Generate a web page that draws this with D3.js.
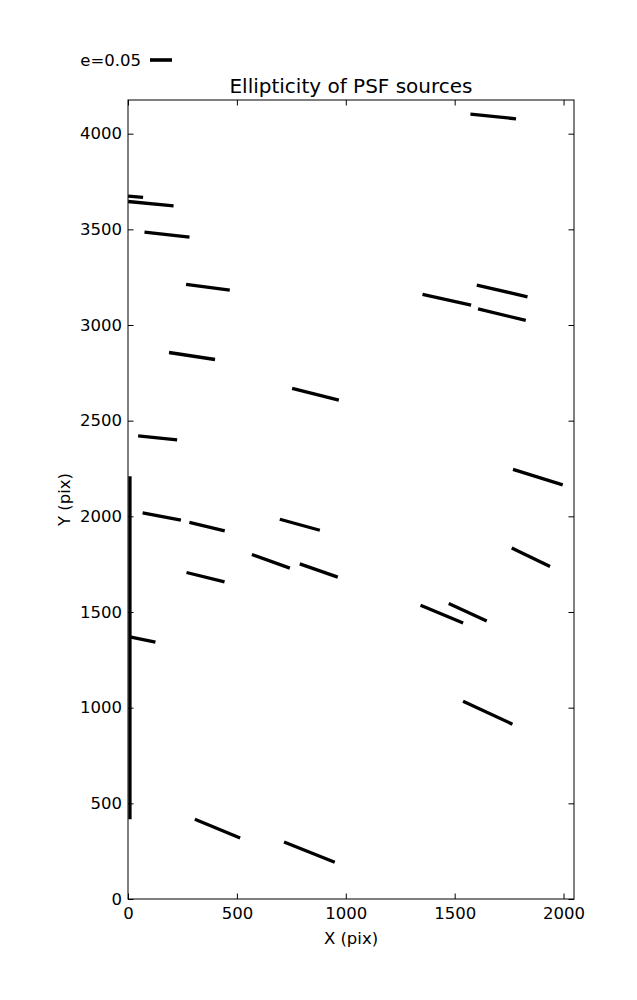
<!DOCTYPE html>
<html>
<head>
<meta charset="utf-8">
<script src="https://cdn.jsdelivr.net/npm/d3@7"></script>
<style>
  html, body { margin: 0; padding: 0; background: #fff; }
  svg { display: block; font-family: "DejaVu Sans", sans-serif; }
</style>
</head>
<body>
<svg id="chart" width="637" height="1000"></svg>
<script>
// ---- Data (source position in pixels, ellipticity e, orientation angle in degrees) ----
const srcX = [1677, 35, 105, 179, 367, 294, 861, 136, 9, 67, 155, 363, 789, 656, 876, 356, 411, 833, 1464, 1718, 1717, 1882, 1850, 1441, 1560, 1652];
const srcY = [4090, 3670, 3634, 3472, 3197, 2838, 2638, 2410, 1313, 1356, 1999, 1946, 1956, 1765, 1717, 1682, 368, 245, 3132, 3178, 3054, 2205, 1786, 1489, 1499, 974];
const ellip = [0.1042, 0.0342, 0.1037, 0.1029, 0.1002, 0.1058, 0.1094, 0.0891, 0.7795, 0.0596, 0.0886, 0.0825, 0.0943, 0.0918, 0.0915, 0.0890, 0.1114, 0.1241, 0.1131, 0.1183, 0.1116, 0.1183, 0.0968, 0.1048, 0.0950, 0.1238];
const angleDeg = [-5.88, -4.95, -5.54, -6.34, -7.43, -8.65, -14.07, -5.86, 90, -11.65, -10.79, -13.38, -15.38, -19.82, -19.29, -13.89, -22.43, -21.83, -12.42, -12.99, -13.67, -17.22, -25.9, -22.56, -24.6, -24.97];
const xTicks = [0, 500, 1000, 1500, 2000];
const yTicks = [0, 500, 1000, 1500, 2000, 2500, 3000, 3500, 4000];
const xDomain = [0, 2048];
const yDomain = [0, 4176];
const keyE = 0.05;
const keyLabel = "e=0.05";
const titleText = "Ellipticity of PSF sources";
const xLabel = "X (pix)";
const yLabel = "Y (pix)";

(function () {
// ---- Layout ----
const mL = 128, mR = 574, mT = 100, mB = 899;
const svg = d3.select("#chart");

const x = d3.scaleLinear().domain(xDomain).range([mL, mR]);
const y = d3.scaleLinear().domain(yDomain).range([mB, mT]);
// ellipticity -> segment length in screen pixels (quiver key: 0.05 = 22 px)
const len = d3.scaleLinear().domain([0, keyE]).range([0, 22]);

const tickFont = 16.5;

svg.append("defs").append("clipPath").attr("id", "clip")
  .append("rect").attr("x", mL).attr("y", mT).attr("width", mR - mL).attr("height", mB - mT);

const data = srcX.map((d, i) => ({ x: d, y: srcY[i], e: ellip[i], a: angleDeg[i] }));
svg.append("g").attr("clip-path", "url(#clip)")
  .selectAll("line").data(data).join("line")
  .attr("x1", d => x(d.x) - len(d.e) / 2 * Math.cos(d.a * Math.PI / 180))
  .attr("x2", d => x(d.x) + len(d.e) / 2 * Math.cos(d.a * Math.PI / 180))
  .attr("y1", d => y(d.y) + len(d.e) / 2 * Math.sin(d.a * Math.PI / 180))
  .attr("y2", d => y(d.y) - len(d.e) / 2 * Math.sin(d.a * Math.PI / 180))
  .attr("stroke", "#000").attr("stroke-width", 3.3).attr("stroke-linecap", "butt");

const tickLen = 5.5;
const gB = svg.append("g").attr("transform", `translate(0,${mB})`)
  .call(d3.axisBottom(x).tickValues(xTicks).tickSizeInner(-tickLen).tickSizeOuter(0).tickPadding(8).tickFormat(d3.format("d")));
const gT = svg.append("g").attr("transform", `translate(0,${mT})`)
  .call(d3.axisTop(x).tickValues(xTicks).tickSizeInner(-tickLen).tickSizeOuter(0).tickFormat(""));
const gL = svg.append("g").attr("transform", `translate(${mL},0)`)
  .call(d3.axisLeft(y).tickValues(yTicks).tickSizeInner(-tickLen).tickSizeOuter(0).tickPadding(6).tickFormat(d3.format("d")));
const gR = svg.append("g").attr("transform", `translate(${mR},0)`)
  .call(d3.axisRight(y).tickValues(yTicks).tickSizeInner(-tickLen).tickSizeOuter(0).tickFormat(""));
[gB, gT, gL, gR].forEach(g => {
  g.select(".domain").remove();
  g.selectAll(".tick line").attr("stroke", "#000").attr("stroke-width", 1);
  g.selectAll(".tick text").attr("fill", "#000").attr("font-size", tickFont).attr("font-family", "DejaVu Sans");
});

svg.append("rect").attr("x", mL).attr("y", mT).attr("width", mR - mL).attr("height", mB - mT)
  .attr("fill", "none").attr("stroke", "#000").attr("stroke-width", 1);

svg.append("text").attr("x", (mL + mR) / 2).attr("y", 93).attr("text-anchor", "middle")
  .attr("font-size", 20).text(titleText);
svg.append("text").attr("x", (mL + mR) / 2).attr("y", 944).attr("text-anchor", "middle")
  .attr("font-size", tickFont).text(xLabel);
svg.append("text").attr("transform", `translate(70,${(mT + mB) / 2}) rotate(-90)`).attr("text-anchor", "middle")
  .attr("font-size", tickFont).text(yLabel);

const keyX = 161, keyY = 60;
svg.append("line").attr("x1", keyX - len(keyE) / 2).attr("x2", keyX + len(keyE) / 2)
  .attr("y1", keyY).attr("y2", keyY).attr("stroke", "#000").attr("stroke-width", 3.6);
svg.append("text").attr("x", 141).attr("y", 66).attr("text-anchor", "end")
  .attr("font-size", tickFont).text(keyLabel);
})();
</script>
</body>
</html>
